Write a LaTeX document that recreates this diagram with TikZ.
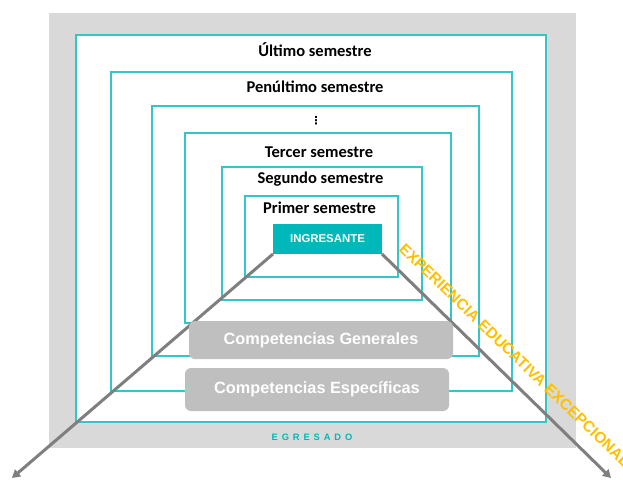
\documentclass[tikz,border=0pt]{standalone}
\usepackage{fontspec}
\setmainfont{Carlito}
\newfontfamily\arialfont{Liberation Sans}
\newfontfamily\egfont[LetterSpace=42]{Liberation Sans}
\newfontfamily\dotsfont{DejaVu Sans}
\usetikzlibrary{arrows.meta}
\definecolor{bggray}{HTML}{D9D9D9}
\definecolor{tealline}{HTML}{33C6C8}
\definecolor{tealfill}{HTML}{00B8BA}
\definecolor{compgray}{HTML}{BFBFBF}
\definecolor{arrowgray}{HTML}{7F7F7F}
\definecolor{goldtext}{HTML}{FFC000}
\begin{document}
\begin{tikzpicture}[x=1pt,y=-1pt,
  semrect/.style={draw=tealline, line width=1.5pt, fill=white, inner sep=0pt, outer sep=0pt},
  semlabel/.style={font=\fontsize{16.5}{19}\selectfont\bfseries, text=black, inner sep=0pt},
  compbox/.style={fill=compgray, rounded corners=6pt, inner sep=0pt, outer sep=0pt,
     text=white, font=\arialfont\bfseries\fontsize{16.3}{19}\selectfont},
  growarrow/.style={draw=arrowgray, line width=3pt, -{Triangle[length=8pt,width=9pt]}}
]
\useasboundingbox (0,0) rectangle (623,479);
\fill[bggray] (49,13) rectangle (576,448);
% nested semester frames
\node[semrect, minimum width=470pt, minimum height=387pt] (r1) at (311,228.5) {};
\node[semrect, minimum width=401pt, minimum height=319pt] (r2) at (311.5,231.5) {};
\node[semrect, minimum width=327pt, minimum height=250pt] (r3) at (315.5,231) {};
\node[semrect, minimum width=266pt, minimum height=190pt] (r4) at (318,228) {};
\node[semrect, minimum width=200pt, minimum height=133pt] (r5) at (322,233.5) {};
\node[semrect, minimum width=153pt, minimum height=81pt] (r6) at (321.5,236.5) {};
% labels
\node[semlabel] (l1) at (315,50) {Último semestre};
\node[semlabel] (l2) at (315,87) {Penúltimo semestre};
\node[inner sep=0pt, font=\dotsfont\bfseries\fontsize{11}{12}\selectfont] (l3) at (316,121) {⋮};
\node[semlabel] (l4) at (319,152) {Tercer semestre};
\node[semlabel] (l5) at (320.5,179) {Segundo semestre};
\node[semlabel] (l6) at (319.5,208) {Primer semestre};
% ingresante
\node[fill=tealfill, minimum width=109pt, minimum height=30pt, inner sep=0pt, outer sep=0pt,
      text=white, font=\arialfont\bfseries\fontsize{11.4}{13}\selectfont] (ing) at (327.5,239) {INGRESANTE};
% arrows
\coordinate (tipL) at (12,478);
\coordinate (tipR) at (611,478);
\draw[growarrow] (ing.south west) -- (tipL);
\draw[growarrow] (ing.south east) -- (tipR);
% experiencia text
\node[anchor=base west, rotate=-44, inner sep=0pt, text=goldtext,
      font=\arialfont\bfseries\fontsize{15.5}{17}\selectfont] (exp) at (398,250) {EXPERIENCIA EDUCATIVA EXCEPCIONAL};
% competencias
\node[compbox, minimum width=264pt, minimum height=38pt] (cg) at (321,340) {Competencias Generales};
\node[compbox, minimum width=264pt, minimum height=43pt] (ce) at (317,389.5) {Competencias Específicas};
% egresado
\node[inner sep=0pt, text=tealfill, font=\egfont\bfseries\fontsize{9.3}{11}\selectfont] (egr) at (312,437) {EGRESADO};
\end{tikzpicture}
\end{document}
